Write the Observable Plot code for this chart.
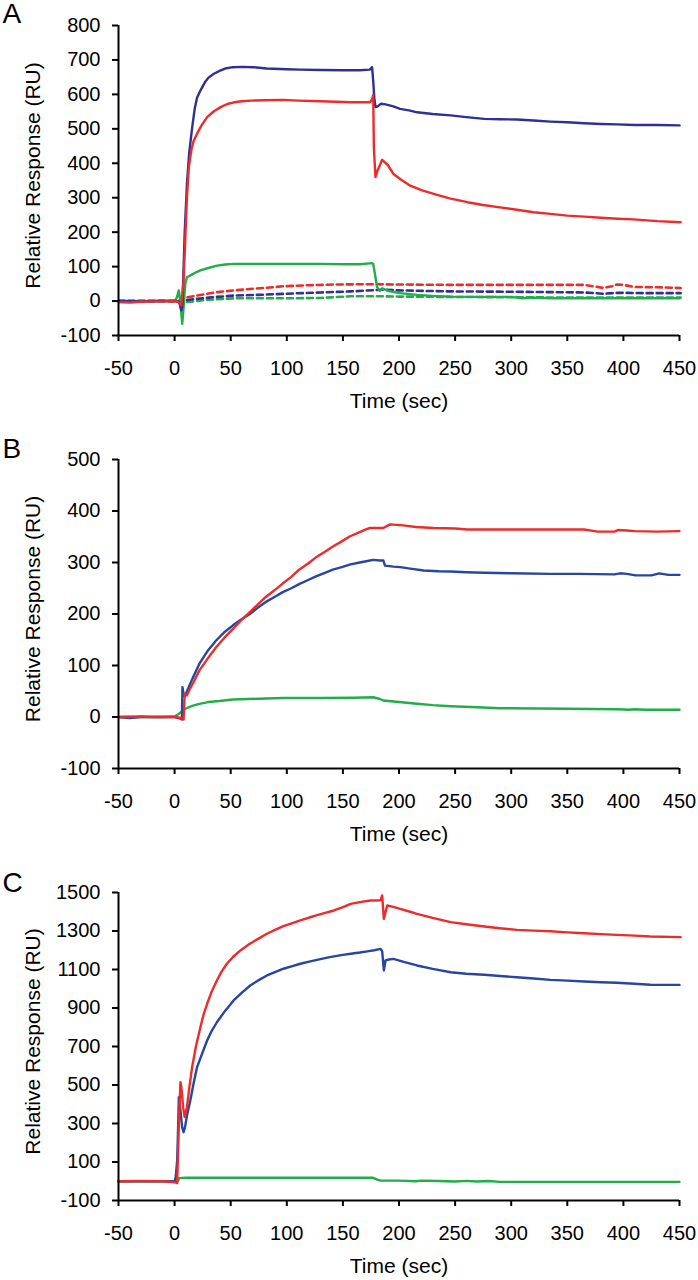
<!DOCTYPE html>
<html><head><meta charset="utf-8">
<script src="https://cdn.jsdelivr.net/npm/d3@7"></script>
<script src="https://cdn.jsdelivr.net/npm/@observablehq/plot@0.6"></script>
<style>
body{margin:0;background:#fff;}
#chart{width:698px;}
#chart svg{display:block;}
</style>
</head><body><div id="chart"></div>
<script>
// ---------- shared labels / ticks ----------
const panelLetters = ["A", "B", "C"];
const xLabel = "Time (sec)";
const yLabel = "Relative Response (RU)";
const xTicks = [-50, 0, 50, 100, 150, 200, 250, 300, 350, 400, 450];
const yTicksA = [-100, 0, 100, 200, 300, 400, 500, 600, 700, 800];
const yTicksB = [-100, 0, 100, 200, 300, 400, 500];
const yTicksC = [-100, 100, 300, 500, 700, 900, 1100, 1300, 1500];

// ---------- Panel A series: [time (s), response (RU)] ----------
const A_blue = [[-50,0],[-30,-1],[-10,0],[0,0],[4,-2],[6,-27],[7,-10],[9,200],[11,340],[13,430],[15.7,505],[18,560],[20,590],[23,611],[27,635],[30,648],[35,660],[40,668],[45,675],[52,679],[60,680],[70,679],[82,675],[100,673],[112,672],[130,671],[150,670],[165,670],[174,672],[176,679],[177,640],[178,590],[179,563],[181,565],[184,573],[188,571],[195,565],[201,558],[210,553],[216,548],[230,543],[246,539],[260,534],[276,529],[290,528],[305,527],[320,524],[335,521],[350,519],[365,516],[380,514],[394,513],[410,511],[430,511],[450,510]];
const A_red = [[-50,-3],[-40,-4],[-30,-2],[-20,-1],[-10,-1],[0,0],[3,-2],[6,-13],[8,60],[9.7,195],[11,300],[12.7,389],[15,440],[17,465],[20,486],[24,510],[29,534],[35,551],[41,563],[47,572],[53,577],[60,580],[68,582],[80,583],[97,584],[110,582],[130,580],[157,577],[174,577],[176,585],[177,598],[177.6,447],[179,360],[181,380],[185,410],[190,395],[195,369],[202,352],[210,335],[220,322],[231,311],[245,298],[261,287],[275,279],[290,272],[305,265],[320,258],[335,253],[350,248],[365,245],[380,242],[395,239],[409,237],[430,232],[451,229]];
const A_green = [[-50,0],[-30,0],[-10,1],[0,0],[2,10],[3.7,31],[5,5],[6.8,-66],[8,-20],[9.5,50],[11,69],[15,76],[20,85],[23,89],[30,96],[38,103],[45,106],[53,108],[70,108],[100,108],[130,108],[150,107],[165,107],[176,110],[177,108],[178.5,80],[180.5,40],[183,30],[185,37],[190,30],[201,23],[216,18],[230,15],[246,13],[270,12],[300,12],[310,8],[320,10],[335,8],[400,8],[450,8]];
const A_red_dash = [[-50,0],[5,0],[8,5],[11,11],[20,16],[38,26],[50,30],[67,35],[80,38],[97,43],[120,46],[142,48],[172,49],[200,48],[246,47],[300,47],[365,47],[375,42],[382,38],[390,43],[394,48],[400,47],[409,41],[430,40],[451,38]];
const A_blue_dash = [[-50,0],[5,0],[8,-5],[11,3],[30,10],[53,16],[75,18],[97,21],[130,25],[157,28],[185,33],[200,31],[246,28],[300,27],[365,25],[375,23],[382,21],[395,24],[420,23],[451,23]];
const A_green_dash = [[-50,0],[5,0],[8,-8],[11,-3],[30,4],[53,8],[100,8],[130,9],[157,14],[183,14],[200,13],[246,12],[300,11],[365,10],[400,10],[451,10]];

// ---------- Panel B series ----------
const B_blue = [[-50,0],[-40,-2],[-30,0],[-10,0],[0,0],[5,-3],[6.5,-5],[7,58],[8,45],[9,40],[12,55],[16,75],[22,103],[29,127],[37,148.5],[44,164],[52,178],[59,189],[67,200],[74,212],[81,223],[89,233],[96,242],[104,250],[111,258],[119,266],[126,273],[134,280],[141,286],[149,291],[156,296],[165,300],[172,303],[177,305],[183,304],[186,304],[187.5,294],[195,292],[201,291],[210,288],[222,284.5],[235,283],[246,282.5],[260,281],[276,280],[300,279],[335,278],[360,278],[392,277],[397,279],[403,278],[411,275],[425,275],[432,279],[440,276],[450,276]];
const B_red = [[-50,0],[-30,1],[-20,0],[0,0],[6,-2],[8,-5],[9,45],[11,42],[13,52],[17,68],[22,90],[29,112],[37,135.5],[44,153],[52,171],[59,187],[67,203.5],[74,218],[81,232.6],[89,246],[96,258.6],[104,272],[111,286],[119,298],[126,310],[134,321],[141,331],[149,341],[156,350.5],[165,359],[170,364],[174,367],[186,367],[192,374],[204,372],[215,369],[231,367],[250,366],[261,364],[300,364],[365,364],[377,360],[392,360],[395,363],[403,362],[410,361],[430,360],[450,361]];
const B_green = [[-50,0],[-10,0],[0,1],[3,5],[6,10],[9.7,16],[15,21],[22,25.6],[30,29],[40,31],[52,34],[75,35.5],[96,37],[130,37],[160,37.5],[177,38.4],[183,35],[186,32],[200,29],[216,25.6],[230,23],[246,21],[270,19],[290,17],[350,16],[395,15],[405,14],[410,15],[420,14],[450,14]];

// ---------- Panel C series ----------
const C_blue = [[-50,0],[-30,0],[-10,0],[0,0],[1,20],[2.3,108],[3,250],[3.8,437],[5,380],[6.7,281],[8,255],[9.3,281],[11,340],[14,419.5],[17,510],[20,592.6],[25,670],[29,731],[33,780],[37.7,826],[45,885],[52.6,939],[60,980],[67.4,1017],[75,1045],[82.3,1069],[90,1088],[97,1104],[105,1118],[112,1130],[120,1141],[127,1150],[135,1160],[142,1168],[150,1176],[157,1182],[165,1188],[171.7,1194],[178,1200],[183.6,1207],[185,1195],[186.5,1095],[188,1147],[191,1152],[195,1155],[205,1138],[216,1121],[230,1103],[246,1086],[260,1078],[276,1072.5],[290,1066],[305,1060],[320,1053],[335,1046],[350,1042],[365,1038],[380,1034],[394,1031],[410,1026],[424,1020.6],[450,1020]];
const C_red = [[-50,0],[-30,1],[-10,0],[0,-5],[2.3,-10],[3.8,298],[5.2,514.5],[6,490],[7.6,385],[9,333],[11,385],[13,480],[15.6,592.6],[19,700],[23,800],[26,870],[29,922],[33,985],[37.7,1043],[42,1090],[46.6,1130],[52,1165],[58.7,1199],[66,1230],[74,1258],[82.3,1285.5],[90,1307],[97,1325],[105,1341],[112,1355],[120,1370],[127,1382],[135,1395],[142,1406.6],[150,1424],[157,1441],[165,1450],[174.6,1458.5],[183.6,1460],[185,1484.5],[186.5,1363],[189.5,1432.5],[195,1425],[201,1415],[210,1400],[216,1389],[230,1368],[246,1346],[260,1335],[276,1323.4],[290,1314],[305,1306],[320,1302],[335,1299],[350,1293],[365,1288.6],[380,1284],[394,1280],[410,1276],[424,1271.5],[451,1268]];
const C_green = [[-50,0],[-30,0],[0,0],[3,0],[4,16],[10,18],[50,18],[100,18],[150,18],[177,18],[180,10],[183,4],[200,3],[215,0],[220,3],[235,1],[250,-1],[260,2],[270,-1],[280,1],[290,-3],[320,-3],[380,-3],[450,-3]];

// ---------- colours ----------
const navy = "#2f2f96";
const blue = "#2846a0";
const red = "#ee2b2b";
const green = "#20ad4a";

const font = "'Liberation Sans', Arial, Helvetica, sans-serif";

function panel({letter, yDomain, yTicks, height, marginTop, marginBottom, series, letterDy}) {
  const lines = series.map(s => Plot.line(s.data, {
    x: d => d[0], y: d => d[1], stroke: s.color, strokeWidth: s.dash ? 2.6 : 2.4,
    strokeDasharray: s.dash ? "6,4" : null, strokeLinejoin: "round"
  }));
  return Plot.plot({
    width: 698, height, marginLeft: 118, marginRight: 19, marginTop, marginBottom,
    style: {fontFamily: font, fontSize: "20px", color: "black", background: "white", overflow: "visible"},
    x: {domain: [-50, 450], axis: null},
    y: {domain: yDomain, axis: null},
    marks: [
      ...lines,
      Plot.axisX({ticks: xTicks, tickSize: 6, tickPadding: 19, strokeWidth: 2, fontSize: 20, label: null, tickFormat: d => String(d)}),
      Plot.axisY({ticks: yTicks, tickSize: 6, tickPadding: 12, strokeWidth: 2, fontSize: 20, label: null, tickFormat: d => String(d)}),
      Plot.ruleX([-50], {stroke: "black", strokeWidth: 2}),
      Plot.ruleY([yDomain[0]], {stroke: "black", strokeWidth: 2}),
      Plot.text([xLabel], {frameAnchor: "bottom", lineAnchor: "top", dy: 58, fontSize: 21, fill: "black"}),
      Plot.text([yLabel], {frameAnchor: "left", textAnchor: "middle", rotate: -90, dx: -85, dy: -5, fontSize: 21, fill: "black"}),
      Plot.text([letter], {frameAnchor: "top-left", textAnchor: "start", lineAnchor: "top", dx: -116, dy: letterDy, fontSize: 28, fill: "black"})
    ]
  });
}

const chart = document.getElementById("chart");
chart.append(panel({
  letter: panelLetters[0], yDomain: [-100, 800], yTicks: yTicksA, height: 420, marginTop: 25, marginBottom: 85, letterDy: -22,
  series: [
    {data: A_green_dash, color: green, dash: true},
    {data: A_blue_dash, color: navy, dash: true},
    {data: A_red_dash, color: red, dash: true},
    {data: A_green, color: green},
    {data: A_blue, color: navy},
    {data: A_red, color: red}
  ]
}));
chart.append(panel({
  letter: panelLetters[1], yDomain: [-100, 500], yTicks: yTicksB, height: 420, marginTop: 39, marginBottom: 72, letterDy: -21,
  series: [
    {data: B_green, color: green},
    {data: B_blue, color: blue},
    {data: B_red, color: red}
  ]
}));
chart.append(panel({
  letter: panelLetters[2], yDomain: [-100, 1500], yTicks: yTicksC, height: 440, marginTop: 52, marginBottom: 80, letterDy: -20,
  series: [
    {data: C_green, color: green},
    {data: C_blue, color: blue},
    {data: C_red, color: red}
  ]
}));
</script></body></html>
